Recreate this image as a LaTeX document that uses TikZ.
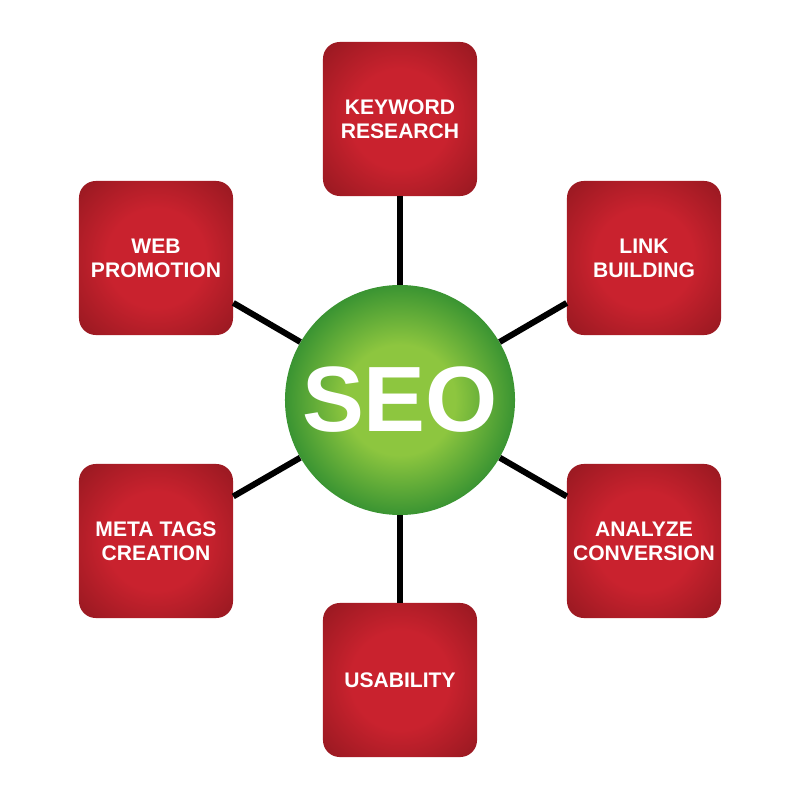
\documentclass[tikz,border=0pt]{standalone}
\usepackage{fontspec}
\setmainfont{Liberation Sans}
\usepackage{tikz}
\definecolor{boxin}{HTML}{C9222E}
\definecolor{boxout}{HTML}{941820}
\definecolor{ballin}{HTML}{8DC63F}
\definecolor{ballout}{HTML}{3A9432}
\pgfdeclareradialshading{boxshade}{\pgfpoint{0bp}{0bp}}{color(0bp)=(boxin); color(16bp)=(boxin); color(36bp)=(boxout); color(50bp)=(boxout)}
\pgfdeclareradialshading{ballshade}{\pgfpoint{0bp}{0bp}}{color(0bp)=(ballin); color(12bp)=(ballin); color(25bp)=(ballout); color(50bp)=(ballout)}
\begin{document}
\begin{tikzpicture}[x=0.025cm, y=-0.025cm,
    task/.style={rectangle, rounded corners=0.42cm, minimum size=3.85cm, shading=boxshade, text=white, align=center, font=\bfseries\fontsize{15}{17}\selectfont},
    link/.style={line width=4.3pt, black}]
        \useasboundingbox (0,0) rectangle (800,800);
        \node (seo) at (400, 400) [circle, minimum size=5.75cm, shading=ballshade, text=white, font=\bfseries\fontsize{66}{66}\selectfont] {SEO};
        \node (keyword) at (400, 119) [task] {KEYWORD\\RESEARCH};
        \node (webpromo) at (156, 258) [task] {WEB\\PROMOTION};
        \node (linkbuild) at (644, 258) [task] {LINK\\BUILDING};
        \node (metatags) at (156, 541) [task] {META TAGS\\CREATION};
        \node (analyze) at (644, 541) [task] {ANALYZE\\CONVERSION};
        \node (usability) at (400, 680) [task] {USABILITY};
        \draw [link] (seo) -- (keyword);
        \draw [link] (seo) -- (webpromo);
        \draw [link] (seo) -- (linkbuild);
        \draw [link] (seo) -- (metatags);
        \draw [link] (seo) -- (analyze);
        \draw [link] (seo) -- (usability);
    \end{tikzpicture}
\end{document}
